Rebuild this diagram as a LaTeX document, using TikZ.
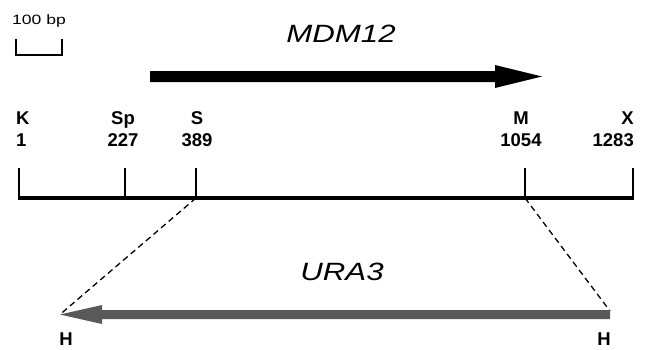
\documentclass[tikz,border=0pt]{standalone}
\usepackage{fontspec}
\setmainfont{Liberation Sans}
\usepackage{graphicx}
\usetikzlibrary{positioning}

\begin{document}
\begin{tikzpicture}[
    x=1pt, y=-1pt,
    site/.style={font=\fontsize{18.5}{22}\selectfont\bfseries, inner sep=0pt, align=center},
    gene/.style={font=\fontsize{25}{28}\selectfont\itshape, inner sep=0pt},
    cut/.style={line width=2.4pt},
    insert/.style={dash pattern=on 6pt off 4pt, line width=1.3pt}
  ]
    \useasboundingbox (0,0) rectangle (654,349);

    % Barre d'echelle
    \node[inner sep=0pt, font=\fontsize{13.5}{15}\selectfont] (scale) at (39,21) {\scalebox{1.3}[1]{100 bp}};
    \draw[line width=1.8pt] (16,39) |- (62,55) -- (62,39);

    % Gene MDM12
    \node[gene] (mdm) at (341,33.5) {\scalebox{1.25}[1]{MDM12}};
    \fill (150,71) -- (495,71) -- (495,65) -- (542,76.5) -- (495,88) -- (495,82) -- (150,82) -- cycle;

    % Sites de restriction
    \coordinate (K) at (19,198);
    \coordinate (Sp) at (125,198);
    \coordinate (S) at (196,198);
    \coordinate (M) at (525,198);
    \coordinate (X) at (633,198);

    \node[site, align=left, anchor=west] (lK) at (16,129.5) {K\\1};
    \node[site] (lSp) at (123,129.5) {Sp\\227};
    \node[site] (lS) at (197,129.5) {S\\389};
    \node[site] (lM) at (521,129.5) {M\\1054};
    \node[site, align=right, anchor=east] (lX) at (634,129.5) {X\\1283};

    \draw[line width=3.5pt] ([xshift=-1.5pt]K) -- ([xshift=1.2pt]X);
    \draw[cut] (K) -- ++(0,-30);
    \draw[cut] (Sp) -- ++(0,-30);
    \draw[cut] (S) -- ++(0,-30);
    \draw[cut] (M) -- ++(0,-30);
    \draw[cut] (X) -- ++(0,-30);

    % Insertion URA3
    \coordinate (hl) at (60,314.5);
    \coordinate (hr) at (610,311);
    \draw[insert] (S) -- (hl);
    \draw[insert] (M) -- (hr);

    \node[gene] (ura) at (342,271.5) {\scalebox{1.25}[1]{URA3}};
    \fill[black!65] (610,310) -- (102,310) -- (102,305) -- (60,314.5) -- (102,324) -- (102,319) -- (610,319) -- cycle;

    \node[site] (hL) at (66,339) {H};
    \node[site] (hR) at (604,339) {H};

  \end{tikzpicture}
\end{document}
